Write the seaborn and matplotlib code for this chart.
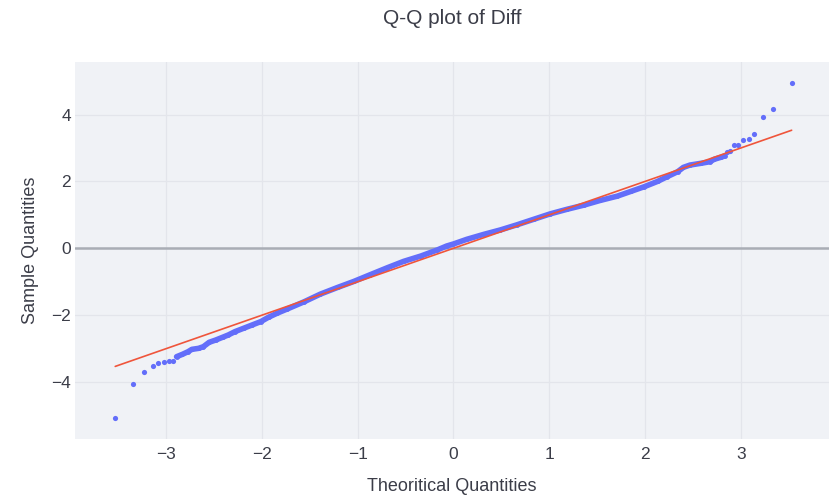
import matplotlib
matplotlib.use("Agg")
import matplotlib.pyplot as plt
import seaborn as sns
import pandas as pd

# Dense part of the Q-Q curve: theoretical vs. sample quantiles
band_theoretical = [-2.89, -2.83, -2.77, -2.73, -2.66, -2.61, -2.55, -2.48, -2.41,
                    -2.35, -2.28, -2.19, -2.10, -2.01, -1.93, -1.84, -1.74, -1.56,
                    -1.39, -1.21, -1.04, -0.87, -0.69, -0.52, -0.34, -0.17, -0.07,
                    0.00, 0.14, 0.32, 0.49, 0.66, 0.84, 1.01, 1.19, 1.36, 1.53,
                    1.71, 1.85, 1.99, 2.13, 2.23, 2.34, 2.40, 2.47, 2.58, 2.68,
                    2.72, 2.79, 2.83]
band_sample = [-3.24, -3.17, -3.09, -3.02, -2.99, -2.94, -2.81, -2.74, -2.66,
               -2.59, -2.49, -2.39, -2.29, -2.19, -2.06, -1.94, -1.82, -1.60,
               -1.37, -1.17, -0.99, -0.79, -0.58, -0.39, -0.23, -0.05, 0.07,
               0.13, 0.27, 0.42, 0.55, 0.70, 0.87, 1.03, 1.17, 1.29, 1.43,
               1.56, 1.70, 1.84, 2.00, 2.14, 2.29, 2.42, 2.49, 2.54, 2.59,
               2.66, 2.72, 2.76]

# Sparse tail observations
tail_theoretical = [-3.53, -3.34, -3.23, -3.14, -3.08, -3.02, -2.97, -2.93,
                    2.86, 2.89, 2.93, 2.97, 3.02, 3.08, 3.14, 3.23, 3.34, 3.53]
tail_sample = [-5.08, -4.07, -3.70, -3.51, -3.44, -3.40, -3.38, -3.36,
               2.87, 2.91, 3.08, 3.10, 3.23, 3.27, 3.41, 3.93, 4.16, 4.95]

# Reference line y = slope * x + intercept
line_slope = 1.0
line_intercept = 0.0

x_ticks = [-3, -2, -1, 0, 1, 2, 3]
y_ticks = [-4, -2, 0, 2, 4]

title = "Q-Q plot of Diff"
x_title = "Theoritical Quantities"
y_title = "Sample Quantities"

marker_color = "#636efa"
line_color = "#EF553B"
text_color = "#3b3d48"

sns.set_theme(style="darkgrid", rc={
    "axes.facecolor": "#F0F2F6",
    "grid.color": "#E3E5EB",
    "grid.linewidth": 0.9,
})
plt.rcParams["font.family"] = ["Liberation Sans", "DejaVu Sans"]

fig = plt.figure(figsize=(8.30, 5.01), dpi=100)
ax = fig.add_axes([75 / 830, 1 - 439 / 501, 754 / 830, 377 / 501])

band = pd.DataFrame({"x": band_theoretical, "y": band_sample})
tails = pd.DataFrame({"x": tail_theoretical, "y": tail_sample})
all_x = band_theoretical + tail_theoretical
x_lo, x_hi = min(all_x), max(all_x)
ref = pd.DataFrame({"x": [x_lo, x_hi],
                    "y": [line_slope * x_lo + line_intercept,
                          line_slope * x_hi + line_intercept]})

ax.axhline(0, color="#A9ADB5", linewidth=1.8, zorder=1)

sns.lineplot(data=band, x="x", y="y", ax=ax, sort=False, color=marker_color,
             linewidth=4.0, zorder=2, solid_capstyle="round")
sns.scatterplot(data=band, x="x", y="y", ax=ax, color=marker_color, s=12,
                linewidth=0, zorder=2)
sns.scatterplot(data=tails, x="x", y="y", ax=ax, color=marker_color, s=14,
                linewidth=0, zorder=2)
sns.lineplot(data=ref, x="x", y="y", ax=ax, color=line_color, linewidth=1.2,
             zorder=3)

ax.set_xlim(-3.95, 3.92)
ax.set_ylim(-5.70, 5.57)
ax.set_xticks(x_ticks)
ax.set_yticks(y_ticks)
ax.set_xticklabels([f"{t}".replace("-", "\u2212") for t in x_ticks])
ax.set_yticklabels([f"{t}".replace("-", "\u2212") for t in y_ticks])
ax.tick_params(axis="both", length=0, labelsize=12.5, colors=text_color)
ax.tick_params(axis="x", pad=6)
ax.tick_params(axis="y", pad=3)
for s in ax.spines.values():
    s.set_visible(False)

ax.set_xlabel(x_title, fontsize=13, color=text_color, labelpad=11)
ax.set_ylabel(y_title, fontsize=13, color=text_color, labelpad=9)
fig.text(452 / 830, 1 - 19 / 501, title, ha="center", va="center",
         fontsize=15, color=text_color)

fig.savefig("out.png", dpi=100)
